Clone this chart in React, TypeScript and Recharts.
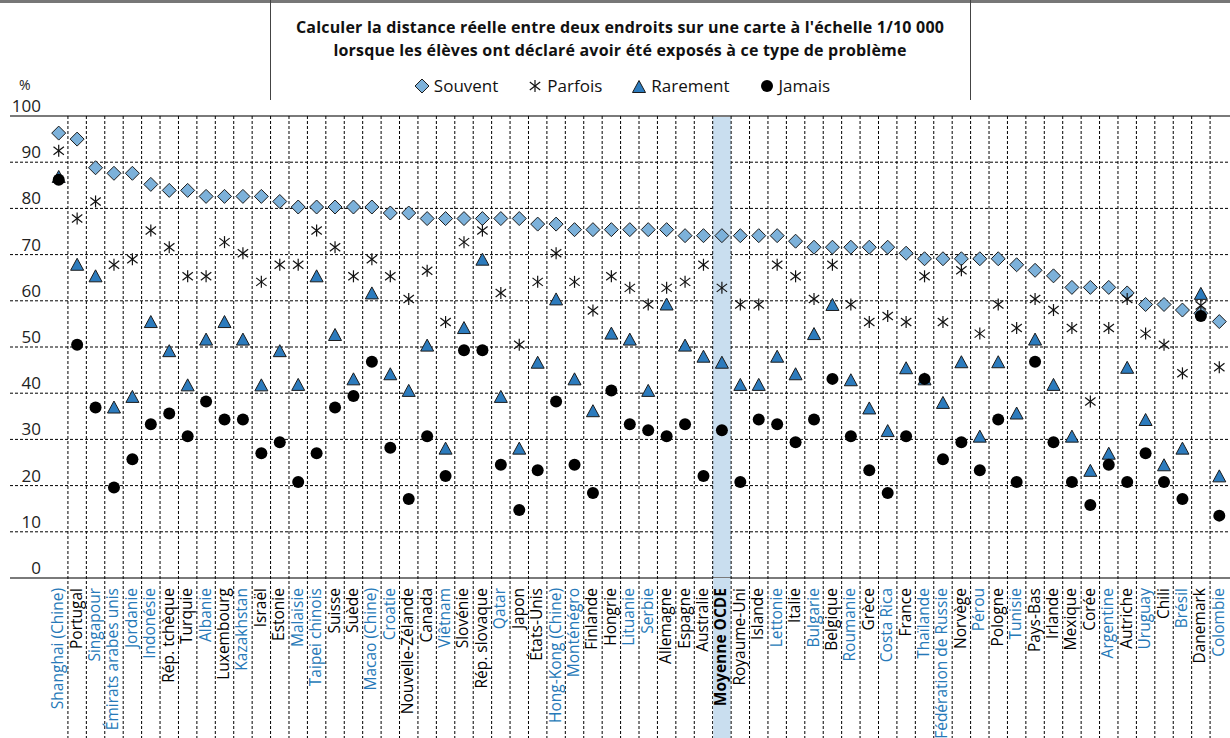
import React from "react";
import { ComposedChart, Line, XAxis, YAxis, CartesianGrid, ReferenceLine, ReferenceArea } from "recharts";

const countries = [
  "Shanghai (Chine)", "Portugal", "Singapour", "Émirats arabes unis", "Jordanie", "Indonésie",
  "Rép. tchèque", "Turquie", "Albanie", "Luxembourg", "Kazakhstan", "Israël", "Estonie",
  "Malaisie", "Taipei chinois", "Suisse", "Suède", "Macao (Chine)", "Croatie", "Nouvelle-Zélande",
  "Canada", "Viêtnam", "Slovénie", "Rép. slovaque", "Qatar", "Japon", "États-Unis",
  "Hong-Kong (Chine)", "Monténégro", "Finlande", "Hongrie", "Lituanie", "Serbie", "Allemagne",
  "Espagne", "Australie", "Moyenne OCDE", "Royaume-Uni", "Islande", "Lettonie", "Italie",
  "Bulgarie", "Belgique", "Roumanie", "Grèce", "Costa Rica", "France", "Thaïlande",
  "Fédération de Russie", "Norvège", "Pérou", "Pologne", "Tunisie", "Pays-Bas", "Irlande",
  "Mexique", "Corée", "Argentine", "Autriche", "Uruguay", "Chili", "Brésil", "Danemark", "Colombie",
];

// partner economies (labels in blue)
const partners = [
  "Shanghai (Chine)", "Singapour", "Émirats arabes unis", "Jordanie", "Indonésie", "Albanie",
  "Kazakhstan", "Malaisie", "Taipei chinois", "Macao (Chine)", "Croatie", "Viêtnam", "Qatar",
  "Hong-Kong (Chine)", "Monténégro", "Lituanie", "Serbie", "Lettonie", "Bulgarie", "Roumanie",
  "Costa Rica", "Thaïlande", "Fédération de Russie", "Pérou", "Tunisie", "Argentine", "Uruguay",
  "Brésil", "Colombie",
];

const souvent = [
  96.3, 95.0, 88.8, 87.6, 87.6, 85.2, 83.9, 83.9, 82.6, 82.6, 82.6, 82.6, 81.5, 80.3, 80.3, 80.3,
  80.3, 80.3, 79.0, 79.0, 77.8, 77.8, 77.8, 77.8, 77.8, 77.8, 76.6, 76.6, 75.4, 75.4, 75.4, 75.4,
  75.4, 75.4, 74.1, 74.1, 74.1, 74.1, 74.1, 74.1, 72.9, 71.6, 71.6, 71.6, 71.6, 71.6, 70.3, 69.1,
  69.1, 69.1, 69.1, 69.1, 67.8, 66.6, 65.4, 62.9, 62.9, 62.9, 61.7, 59.2, 59.2, 58.0, 57.3, 55.5,
];
const parfois = [
  92.5, 77.8, 81.5, 67.8, 69.0, 75.2, 71.6, 65.3, 65.3, 72.7, 70.3, 64.1, 67.8, 67.8, 75.2, 71.6,
  65.3, 69.0, 65.3, 60.4, 66.5, 55.4, 72.7, 75.2, 61.7, 50.5, 64.1, 70.3, 64.1, 57.9, 65.3, 62.8,
  59.2, 62.8, 64.1, 67.8, 62.8, 59.2, 59.2, 67.8, 65.3, 60.4, 67.8, 59.2, 55.4, 56.7, 55.4, 65.3,
  55.4, 66.6, 52.9, 59.2, 54.1, 60.4, 58.0, 54.1, 38.2, 54.1, 60.4, 52.9, 50.5, 44.3, 59.0, 45.6,
];
const rarement = [
  86.8, 67.8, 65.3, 36.9, 39.2, 55.4, 49.1, 41.7, 51.6, 55.4, 51.6, 41.7, 49.1, 41.8, 65.3, 52.6,
  43.0, 61.6, 44.1, 40.5, 50.3, 28.0, 54.1, 68.9, 39.2, 28.0, 46.6, 60.3, 43.0, 36.1, 52.9, 51.6,
  40.5, 59.2, 50.3, 47.9, 46.6, 41.8, 41.8, 47.9, 44.1, 52.8, 59.1, 42.8, 36.7, 31.8, 45.4, 43.0,
  37.9, 46.7, 30.6, 46.7, 35.6, 51.6, 41.8, 30.6, 23.2, 26.9, 45.5, 34.2, 24.4, 28.0, 61.5, 22.0,
];
const jamais = [
  86.2, 50.5, 36.9, 19.6, 25.7, 33.3, 35.6, 30.7, 38.2, 34.3, 34.3, 27.0, 29.4, 20.8, 27.0, 36.9,
  39.4, 46.8, 28.2, 17.1, 30.7, 22.1, 49.3, 49.3, 24.5, 14.7, 23.3, 38.2, 24.5, 18.4, 40.6, 33.3,
  32.0, 30.7, 33.3, 22.1, 32.0, 20.8, 34.3, 33.3, 29.4, 34.3, 43.1, 30.7, 23.3, 18.4, 30.7, 43.1,
  25.7, 29.4, 23.3, 34.3, 20.8, 46.8, 29.4, 20.8, 15.8, 24.5, 20.8, 27.0, 20.8, 17.1, 56.7, 13.5,
];

const yTicks = [0, 10, 20, 30, 40, 50, 60, 70, 80, 90, 100];
const AVERAGE = "Moyenne OCDE";
const legendLabels = ["Souvent", "Parfois", "Rarement", "Jamais"];

const data = countries.map((country, i) => ({
  country,
  souvent: souvent[i],
  parfois: parfois[i],
  rarement: rarement[i],
  jamais: jamais[i],
}));

const BLUE_TEXT = "#2679b8";
const DIAMOND_FILL = "#7cb1da";
const TRIANGLE_FILL = "#2c7bbd";
const BAND = "#c9deef";
const FONT = "'Open Sans', sans-serif";
const PLOT_TOP = 116;
const PAGE_H = 738;

function Diamond({ cx, cy }: any) {
  if (cx == null || cy == null) return null;
  const r = 7;
  return <polygon points={`${cx},${cy - r} ${cx + r},${cy} ${cx},${cy + r} ${cx - r},${cy}`} fill={DIAMOND_FILL} stroke="#1b1b1b" strokeWidth={1} />;
}

function Star({ cx, cy }: any) {
  if (cx == null || cy == null) return null;
  const r = 6;
  const dx = r * Math.cos(Math.PI / 6);
  const dy = r * Math.sin(Math.PI / 6);
  return (
    <g stroke="#111" strokeWidth={1.2}>
      <line x1={cx} y1={cy - r} x2={cx} y2={cy + r} />
      <line x1={cx - dx} y1={cy - dy - 1} x2={cx + dx} y2={cy + dy + 1} />
      <line x1={cx - dx} y1={cy + dy + 1} x2={cx + dx} y2={cy - dy - 1} />
    </g>
  );
}

function Triangle({ cx, cy }: any) {
  if (cx == null || cy == null) return null;
  return <polygon points={`${cx},${cy - 6.5} ${cx + 6.5},${cy + 5.5} ${cx - 6.5},${cy + 5.5}`} fill={TRIANGLE_FILL} stroke="#1b1b1b" strokeWidth={1} />;
}

function Dot({ cx, cy }: any) {
  if (cx == null || cy == null) return null;
  return <circle cx={cx} cy={cy} r={6} fill="#000" />;
}

function CountryTick(props: any) {
  const { x, y, payload, index } = props;
  const half = payload.offset || 9.25;
  const name = payload.value;
  const isAvg = name === AVERAGE;
  const color = isAvg ? "#000" : partners.includes(name) ? BLUE_TEXT : "#000";
  return (
    <g>
      {isAvg && <rect x={x - half + 0.5} y={y} width={half * 2 - 1} height={PAGE_H - y} fill={BAND} />}
      {index < countries.length - 1 && (
        <line x1={x + half} x2={x + half} y1={PLOT_TOP} y2={PAGE_H} stroke="#000" strokeDasharray="3 2" strokeWidth={1} />
      )}
      <text
        transform={`translate(${x - 1.5},${y + 10}) rotate(-90)`}
        textAnchor="end"
        dominantBaseline="central"
        fontSize={15.5}
        fontFamily={FONT}
        fontWeight={isAvg ? 700 : 400}
        fill={color}
      >
        {name}
      </text>
    </g>
  );
}

function PercentTick(props: any) {
  const { y, payload } = props;
  return (
    <text x={41} y={y - 4} textAnchor="end" fontSize={17} fontFamily={FONT} fill="#222">
      {payload.value}
    </text>
  );
}

function LegendMark({ kind }: { kind: string }) {
  return (
    <svg width={16} height={16} style={{ marginRight: 4 }}>
      {kind === "Souvent" && <Diamond cx={8} cy={8} />}
      {kind === "Parfois" && <Star cx={8} cy={8} />}
      {kind === "Rarement" && <Triangle cx={8} cy={9} />}
      {kind === "Jamais" && <Dot cx={8} cy={8} />}
    </svg>
  );
}

export default function App() {
  return (
    <div style={{ position: "relative", width: 1230, height: PAGE_H, overflow: "hidden", background: "#fff", fontFamily: FONT }}>
      <style>{`body{margin:0}`}</style>

      {/* header box */}
      <div style={{ position: "absolute", left: 0, top: 0, width: 1230, height: 3, background: "#777" }} />
      <div style={{ position: "absolute", left: 270, top: 0, width: 1, height: 100, background: "#444" }} />
      <div style={{ position: "absolute", left: 970, top: 0, width: 1, height: 100, background: "#444" }} />
      <div style={{ position: "absolute", left: 270, width: 700, top: 16, textAlign: "center", fontWeight: 700, fontSize: 16, letterSpacing: 0.2, lineHeight: "23px", color: "#111" }}>
        Calculer la distance réelle entre deux endroits sur une carte à l'échelle 1/10 000
        <br />
        lorsque les élèves ont déclaré avoir été exposés à ce type de problème
      </div>
      <div style={{ position: "absolute", left: 272, width: 700, top: 74, display: "flex", justifyContent: "center", alignItems: "center", gap: 29, fontSize: 17, color: "#111" }}>
        {legendLabels.map((l) => (
          <span key={l} style={{ display: "flex", alignItems: "center" }}>
            <LegendMark kind={l} />
            {l}
          </span>
        ))}
      </div>
      <div style={{ position: "absolute", left: 19, top: 75, fontSize: 14, color: "#222" }}>%</div>

      <div style={{ position: "absolute", left: 0, top: 0 }}>
        <ComposedChart width={1230} height={PAGE_H} data={data} margin={{ top: PLOT_TOP, right: 0, bottom: 0, left: 9 }}>
          <ReferenceArea x1={AVERAGE} x2={AVERAGE} y1={0} y2={100} fill={BAND} fillOpacity={1} stroke="none" ifOverflow="visible" />
          <CartesianGrid vertical={false} stroke="#000" strokeDasharray="3 2" />
          <ReferenceLine y={100} stroke="#7a7a7a" strokeWidth={2} />
          <ReferenceLine y={0} stroke="#7a7a7a" strokeWidth={2} />
          <XAxis
            dataKey="country"
            scale="band"
            interval={0}
            height={PAGE_H - 578}
            axisLine={false}
            tickLine={false}
            tickSize={0}
            tickMargin={0}
            padding={{ left: 39.5, right: 1.5 }}
            tick={<CountryTick />}
          />
          <YAxis domain={[0, 100]} ticks={yTicks} interval={0} width={1} axisLine={false} tickLine={false} tick={<PercentTick />} />
          <Line dataKey="souvent" stroke="none" dot={<Diamond />} activeDot={false} isAnimationActive={false} />
          <Line dataKey="parfois" stroke="none" dot={<Star />} activeDot={false} isAnimationActive={false} />
          <Line dataKey="rarement" stroke="none" dot={<Triangle />} activeDot={false} isAnimationActive={false} />
          <Line dataKey="jamais" stroke="none" dot={<Dot />} activeDot={false} isAnimationActive={false} />
        </ComposedChart>
      </div>
    </div>
  );
}
